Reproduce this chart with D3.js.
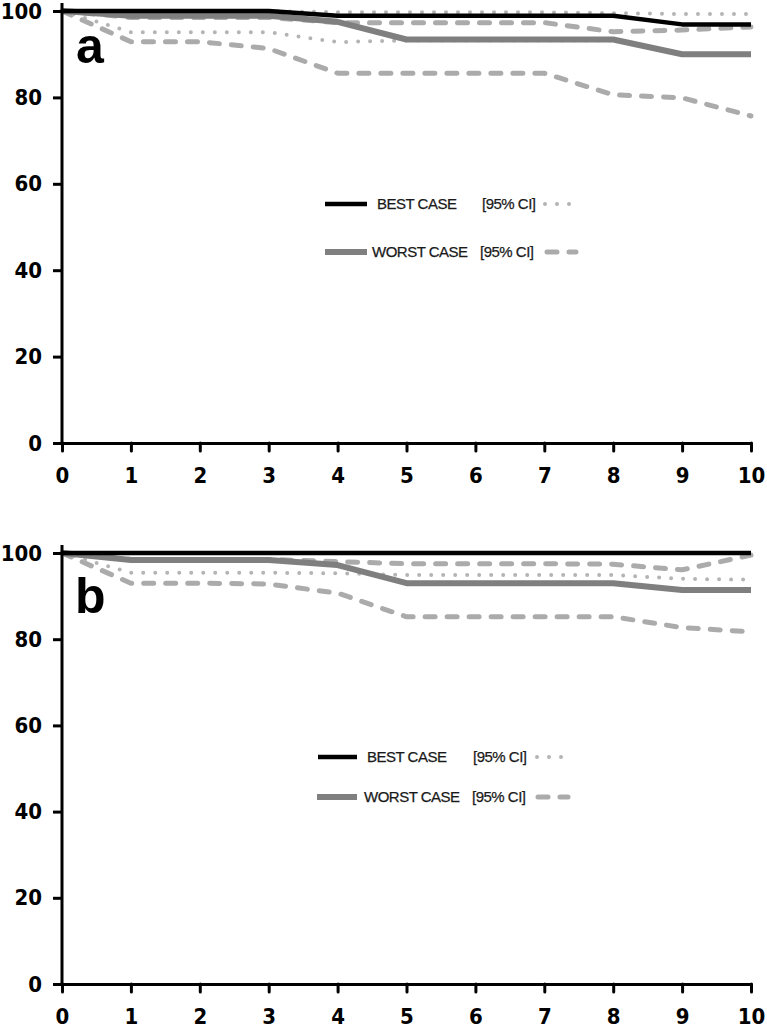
<!DOCTYPE html>
<html>
<head>
<meta charset="utf-8">
<script src="https://cdn.jsdelivr.net/npm/d3@7"></script>
<style>
    html, body { margin: 0; padding: 0; background: #fff; }
    .tick text { font-family: 'DejaVu Sans Condensed', 'DejaVu Sans', sans-serif; font-stretch: condensed; font-weight: bold; font-size: 22px; fill: #000; }
    .legend-text { font-family: 'Liberation Sans', Arial, sans-serif; font-size: 15px; letter-spacing: -0.5px; fill: #1a1a1a; stroke: #1a1a1a; stroke-width: 0.25px; }
    .panel-label { font-family: 'Liberation Sans', Arial, sans-serif; font-weight: bold; font-size: 50px; fill: #000; }
</style>
</head>
<body>
<div id="chart"></div>
<script>
// Years since surgery
const years = [0, 1, 2, 3, 4, 5, 6, 7, 8, 9, 10];
const xTicks = [0, 1, 2, 3, 4, 5, 6, 7, 8, 9, 10];
const yTicks = [0, 20, 40, 60, 80, 100];

// Panel a
const aBest       = [100, 100, 100, 100, 98.9, 98.9, 98.9, 98.9, 98.9, 96.9, 96.9];
const aBestUpper  = [100, 100, 100, 100, 99.7, 99.7, 99.7, 99.7, 99.5, 99.3, 99.3];
const aBestLower  = [100, 95.1, 95.1, 95.1, 92.8, 93.2, 93.2, 93.2, 93.2, 90.1, 90.1];
const aWorst      = [100, 98.9, 98.9, 98.9, 97.5, 93.4, 93.4, 93.4, 93.4, 90.0, 90.0];
const aWorstUpper = [100, 98.5, 98.5, 98.5, 97.3, 97.3, 97.3, 97.3, 95.2, 95.6, 96.3];
const aWorstLower = [100, 92.9, 92.9, 91.3, 85.6, 85.6, 85.6, 85.6, 80.6, 79.9, 75.7];

// Panel b
const bBest       = [100, 100, 100, 100, 100, 100, 100, 100, 100, 100, 100];
const bBestUpper  = [100, 100, 100, 100, 100, 100, 100, 100, 100, 100, 100];
const bBestLower  = [100, 95.4, 95.4, 95.4, 95.3, 94.9, 94.9, 94.9, 94.9, 94.0, 93.8];
const bWorst      = [100, 98.4, 98.4, 98.4, 97.2, 93.0, 93.0, 93.0, 93.0, 91.4, 91.4];
const bWorstUpper = [100, 98.5, 98.5, 98.5, 98.0, 97.5, 97.5, 97.5, 97.4, 96.1, 99.5];
const bWorstLower = [100, 93.0, 93.0, 92.8, 90.7, 85.2, 85.2, 85.2, 85.2, 82.7, 81.7];

const legendLabels = ['BEST CASE', 'WORST CASE'];
const ciLabel = '[95% CI]';

// Line styles
const STYLE = {
    best:  { stroke: '#000', width: 4.5, dash: null, cap: 'butt' },
    worst: { stroke: '#7f7f7f', width: 6, dash: null, cap: 'butt' },
    dot:   { stroke: '#b4b4b4', width: 4, dash: '0 12', cap: 'round' },
    dash:  { stroke: '#ababab', width: 5, dash: '10 12', cap: 'round' }
};

const width = 767, height = 1028;

const svg = d3.select('#chart')
    .append('svg')
    .attr('width', width)
    .attr('height', height)
    .style('display', 'block')
    .style('background', '#fff');

const xScale = d3.scaleLinear().domain([0, 10]).range([62, 751]);

/**
 * Draw one survival panel
 */
function drawPanel(opts) {
    const yScale = d3.scaleLinear().domain([0, 100]).range([opts.bottom, opts.top]);
    const g = svg.append('g');

    const line = d3.line()
        .x((d, i) => xScale(years[i]))
        .y(d => yScale(d));

    const applyStyle = (sel, s) => {
        sel.attr('fill', 'none')
            .attr('stroke', s.stroke)
            .attr('stroke-width', s.width)
            .attr('stroke-linecap', s.cap)
            .attr('stroke-linejoin', 'round');
        if (s.dash) sel.attr('stroke-dasharray', s.dash);
    };

    // Order: CI lines underneath, then worst, then best on top
    const series = [
        [opts.worstUpper, STYLE.dash],
        [opts.worstLower, STYLE.dash],
        [opts.bestUpper, STYLE.dot],
        [opts.bestLower, STYLE.dot],
        [opts.worst, STYLE.worst],
        [opts.best, STYLE.best]
    ];
    series.forEach(([values, s]) => {
        g.append('path').datum(values).attr('d', line).call(applyStyle, s);
    });

    // Y axis
    const yAxis = d3.axisLeft(yScale)
        .tickValues(yTicks)
        .tickSize(9)
        .tickPadding(11)
        .tickSizeOuter(0);
    const yg = g.append('g')
        .attr('transform', `translate(${xScale(0)},0)`)
        .call(yAxis);
    yg.select('.domain').remove();
    yg.selectAll('.tick line').attr('stroke', '#000').attr('stroke-width', 3);
    yg.append('line')
        .attr('x1', 0).attr('x2', 0)
        .attr('y1', yScale(0)).attr('y2', yScale(100) - 8)
        .attr('stroke', '#000').attr('stroke-width', 3);

    // X axis
    const xAxis = d3.axisBottom(xScale)
        .tickValues(xTicks)
        .tickSize(8)
        .tickPadding(16)
        .tickSizeOuter(0);
    const xg = g.append('g')
        .attr('transform', `translate(0,${yScale(0)})`)
        .call(xAxis);
    xg.select('.domain').attr('stroke', '#000').attr('stroke-width', 3);
    xg.selectAll('.tick line').attr('stroke', '#000').attr('stroke-width', 3).attr('stroke-linecap', 'round');

    // Panel letter
    g.append('text')
        .attr('class', 'panel-label')
        .attr('x', opts.labelX)
        .attr('y', opts.labelY)
        .text(opts.label);

    // Legend
    const lg = opts.legend;
    [0, 1].forEach(i => {
        const row = lg.rows[i];
        const yy = row.y;
        g.append('line')
            .attr('x1', row.lineX[0]).attr('x2', row.lineX[1])
            .attr('y1', yy).attr('y2', yy)
            .call(applyStyle, i === 0 ? STYLE.best : STYLE.worst);
        g.append('text')
            .attr('class', 'legend-text')
            .attr('x', row.textX)
            .attr('y', yy + 5)
            .text(legendLabels[i]);
        g.append('text')
            .attr('class', 'legend-text')
            .attr('x', row.ciX)
            .attr('y', yy + 5)
            .text(ciLabel);
        g.append('line')
            .attr('x1', row.sampleX[0]).attr('x2', row.sampleX[1])
            .attr('y1', yy).attr('y2', yy)
            .call(applyStyle, i === 0 ? STYLE.dot : STYLE.dash);
    });
}

drawPanel({
    top: 11, bottom: 443,
    best: aBest, bestUpper: aBestUpper, bestLower: aBestLower,
    worst: aWorst, worstUpper: aWorstUpper, worstLower: aWorstLower,
    label: 'a', labelX: 76, labelY: 63,
    legend: {
        rows: [
            { y: 204, lineX: [325, 367], textX: 377, ciX: 482, sampleX: [545, 580] },
            { y: 252, lineX: [325, 367], textX: 372, ciX: 480, sampleX: [547, 576] }
        ]
    }
});

drawPanel({
    top: 553, bottom: 984,
    best: bBest, bestUpper: bBestUpper, bestLower: bBestLower,
    worst: bWorst, worstUpper: bWorstUpper, worstLower: bWorstLower,
    label: 'b', labelX: 75, labelY: 613,
    legend: {
        rows: [
            { y: 757, lineX: [318, 357], textX: 367, ciX: 473, sampleX: [537, 572] },
            { y: 797, lineX: [317, 357], textX: 364, ciX: 472, sampleX: [538, 568] }
        ]
    }
});
</script>
</body>
</html>
